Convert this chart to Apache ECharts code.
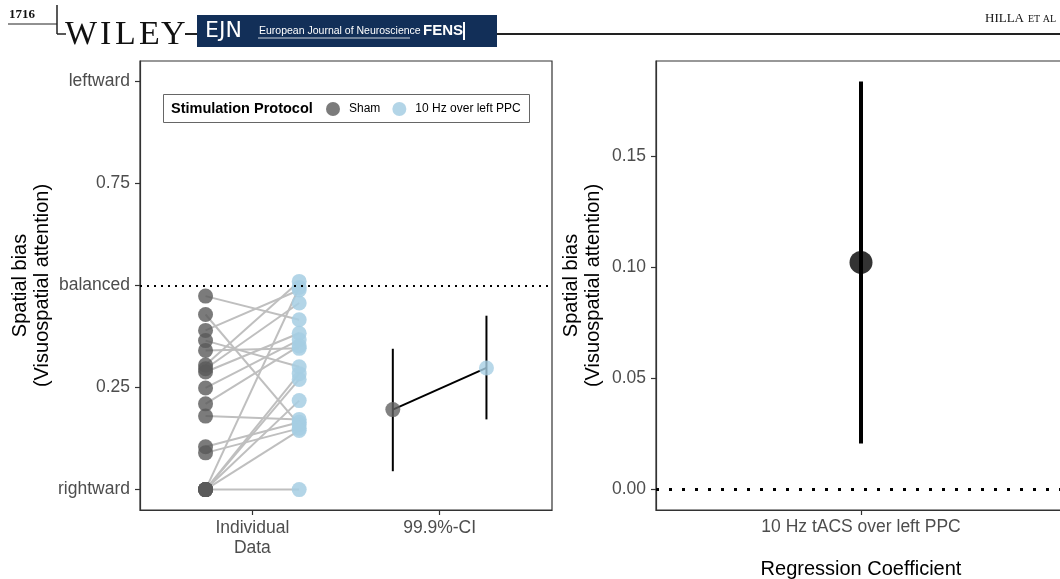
<!DOCTYPE html>
<html>
<head>
<meta charset="utf-8">
<script src="https://cdn.jsdelivr.net/npm/echarts@6/dist/echarts.min.js"></script>
<style>
html,body{margin:0;padding:0;background:#fff;}
#c{width:1060px;height:579px;}
</style>
</head>
<body>
<div id="c"></div>
<script>
// ---- data ----
const xCatLabels = ['Individual\nData', '99.9%-CI'];
const yTickValues = [0, 0.25, 0.5, 0.75, 1];
const yTickLabels = ['rightward', '0.25', 'balanced', '0.75', 'leftward'];
const shamVals = [0.474, 0.429, 0.390, 0.365, 0.341, 0.305, 0.296, 0.288, 0.249, 0.210, 0.180, 0.105, 0.090, 0, 0, 0, 0, 0, 0];
const ppcVals  = [0.416, 0.159, 0.489, 0.301, 0.346, 0.510, 0.457, 0.383, 0.367, 0.352, 0.172, 0.165, 0.150, 0, 0.145, 0.218, 0.270, 0.284, 0.495];
const ciMean = [0.196, 0.298];
const ciLow  = [0.045, 0.172];
const ciHigh = [0.345, 0.426];
const regLabel = '10 Hz tACS over left PPC';
const regTicks = [0, 0.05, 0.10, 0.15];
const regEst = 0.1023, regLow = 0.0207, regHigh = 0.1838;
const groupNames = ['Sham', '10 Hz over left PPC'];

const SHAM = '#5a5a5a', PPC = '#a6cee3';
const FONT = 'Liberation Sans';
const chart = echarts.init(document.getElementById('c'));

const series = [];
// paired lines
shamVals.forEach((s, i) => {
  series.push({
    type: 'line', xAxisIndex: 0, yAxisIndex: 0, name: 'pair' + i,
    data: [[0.75, s], [1.25, ppcVals[i]]],
    symbol: 'none', silent: true, z: 1,
    lineStyle: { color: '#bfbfbf', width: 2 }
  });
});
series.push({
  type: 'scatter', name: groupNames[0], xAxisIndex: 0, yAxisIndex: 0,
  data: shamVals.map(v => [0.75, v]), symbolSize: 15, z: 3,
  itemStyle: { color: SHAM, opacity: 0.8 },
  markLine: {
    silent: true, symbol: 'none', label: { show: false },
    lineStyle: { color: '#000', type: [2, 5], width: 2 },
    data: [{ yAxis: 0.5 }]
  }
});
series.push({
  type: 'scatter', name: groupNames[1], xAxisIndex: 0, yAxisIndex: 0,
  data: ppcVals.map(v => [1.25, v]), symbolSize: 15, z: 3,
  itemStyle: { color: PPC, opacity: 0.85 }
});
// CI
series.push({
  type: 'line', name: 'ciMeanLine', xAxisIndex: 0, yAxisIndex: 0,
  data: [[1.75, ciMean[0]], [2.25, ciMean[1]]], symbol: 'none', z: 2,
  lineStyle: { color: '#000', width: 2 }
});
[1.75, 2.25].forEach((x, k) => {
  series.push({
    type: 'line', name: 'ciBar' + k, xAxisIndex: 0, yAxisIndex: 0,
    data: [[x, ciLow[k]], [x, ciHigh[k]]], symbol: 'none', z: 2,
    lineStyle: { color: '#000', width: 2 }
  });
});
series.push({
  type: 'scatter', name: groupNames[0], xAxisIndex: 0, yAxisIndex: 0,
  data: [[1.75, ciMean[0]]], symbolSize: 15, z: 4, itemStyle: { color: '#616161' }
});
series.push({
  type: 'scatter', name: groupNames[1], xAxisIndex: 0, yAxisIndex: 0,
  data: [[2.25, ciMean[1]]], symbolSize: 15, z: 4, itemStyle: { color: PPC }
});
// right panel
series.push({
  type: 'line', name: 'regBar', xAxisIndex: 1, yAxisIndex: 1,
  data: [[1, regLow], [1, regHigh]], symbol: 'none', z: 2,
  lineStyle: { color: '#000', width: 4 },
  markLine: {
    silent: true, symbol: 'none', label: { show: false },
    lineStyle: { color: '#000', type: [3, 10], width: 3 },
    data: [{ yAxis: 0 }]
  }
});
series.push({
  type: 'scatter', name: 'regPoint', xAxisIndex: 1, yAxisIndex: 1,
  data: [[1, regEst]], symbolSize: 23, z: 4, itemStyle: { color: '#000' }
});

const tickStyle = { color: '#333', width: 1.2 };
const labelStyle = { color: '#4d4d4d', fontSize: 17.5, fontFamily: FONT };
const nameStyle = { color: '#000', fontSize: 20, fontFamily: FONT, lineHeight: 22 };

const wileyLetters = [['W', 65], ['I', 100], ['L', 115], ['E', 139], ['Y', 161]];

const option = {
  animation: false,
  backgroundColor: '#fff',
  textStyle: { fontFamily: FONT },
  grid: [
    { left: 140, top: 61, width: 412, height: 449, outerBoundsMode: 'none', containLabel: false,
      show: true, borderColor: '#333', borderWidth: 1.2, backgroundColor: '#fff' },
    { left: 656, top: 61, width: 410, height: 449, outerBoundsMode: 'none', containLabel: false,
      show: true, borderColor: '#333', borderWidth: 1.2, backgroundColor: '#fff' }
  ],
  xAxis: [
    {
      type: 'value', gridIndex: 0, min: 0.4, max: 2.6,
      splitLine: { show: false },
      axisLine: { show: true, onZero: false, lineStyle: tickStyle },
      axisTick: { show: true, customValues: [1, 2], length: 5, lineStyle: tickStyle },
      axisLabel: Object.assign({ customValues: [1, 2], margin: 8, lineHeight: 20,
        formatter: v => xCatLabels[Math.round(v) - 1] }, labelStyle)
    },
    {
      type: 'value', gridIndex: 1, min: 0.4, max: 1.6,
      splitLine: { show: false },
      axisLine: { show: true, onZero: false, lineStyle: tickStyle },
      axisTick: { show: true, customValues: [1], length: 5, lineStyle: tickStyle },
      axisLabel: Object.assign({ customValues: [1], margin: 8, formatter: () => regLabel }, labelStyle),
      name: 'Regression Coefficient', nameLocation: 'middle', nameGap: 48,
      nameTextStyle: nameStyle
    }
  ],
  yAxis: [
    {
      type: 'value', gridIndex: 0, min: -0.05, max: 1.05,
      splitLine: { show: false },
      axisLine: { show: true, onZero: false, lineStyle: tickStyle },
      axisTick: { show: true, customValues: yTickValues, length: 5, lineStyle: tickStyle },
      axisLabel: Object.assign({ customValues: yTickValues, margin: 10,
        formatter: v => yTickLabels[yTickValues.findIndex(t => Math.abs(t - v) < 1e-6)] }, labelStyle),
      name: 'Spatial bias\n(Visuospatial attention)', nameLocation: 'middle', nameGap: 87,
      nameTextStyle: nameStyle
    },
    {
      type: 'value', gridIndex: 1, min: -0.0092, max: 0.193,
      splitLine: { show: false },
      axisLine: { show: true, onZero: false, lineStyle: tickStyle },
      axisTick: { show: true, customValues: regTicks, length: 5, lineStyle: tickStyle },
      axisLabel: Object.assign({ customValues: regTicks, margin: 10,
        formatter: v => v.toFixed(2) }, labelStyle),
      name: 'Spatial bias\n(Visuospatial attention)', nameLocation: 'middle', nameGap: 52,
      nameTextStyle: nameStyle
    }
  ],
  legend: {
    data: groupNames, left: 326, top: 102, padding: 0, z: 60,
    icon: 'circle', itemWidth: 14, itemHeight: 14, itemGap: 12,
    selectedMode: false,
    textStyle: { fontSize: 12, color: '#000', fontFamily: FONT, padding: [0, 0, 0, 4] }
  },
  graphic: [
    { type: 'rect', shape: { x: 163.5, y: 94.5, width: 366, height: 28 }, style: { fill: '#fff', stroke: '#666', lineWidth: 1 }, z: 5 },
    { type: 'text', x: 171, y: 109, z: 6, style: { text: 'Stimulation Protocol', font: 'bold 14.5px "Liberation Sans"', fill: '#000', verticalAlign: 'middle' } },
    // header
    { type: 'text', x: 9, y: 8, style: { text: '1716', font: 'bold 13px "Liberation Serif"', fill: '#111' } },
    { type: 'line', shape: { x1: 8, y1: 24, x2: 57, y2: 24 }, style: { stroke: '#222', lineWidth: 1 } },
    { type: 'line', shape: { x1: 57, y1: 5, x2: 57, y2: 34 }, style: { stroke: '#222', lineWidth: 1.5 } },
    { type: 'line', shape: { x1: 57, y1: 34, x2: 66, y2: 34 }, style: { stroke: '#222', lineWidth: 1.5 } },
    ...wileyLetters.map(([ch, x]) => ({ type: 'text', x: x, y: 18, style: { text: ch, font: '34px "Liberation Serif"', fill: '#111' } })),
    { type: 'line', shape: { x1: 185, y1: 34, x2: 197, y2: 34 }, style: { stroke: '#222', lineWidth: 2 } },
    { type: 'rect', shape: { x: 197, y: 15, width: 300, height: 32 }, style: { fill: '#122f58' } },
    { type: 'text', x: 205, y: 31, style: { text: 'EJN', font: '22px "DejaVu Sans"', fill: '#fff', verticalAlign: 'middle' } },
    { type: 'text', x: 259, y: 31, style: { text: 'European Journal of Neuroscience', font: '10.5px "Liberation Sans"', fill: '#fff', verticalAlign: 'middle' } },
    { type: 'line', shape: { x1: 258, y1: 38, x2: 410, y2: 38 }, style: { stroke: '#fff', lineWidth: 0.8 } },
    { type: 'text', x: 423, y: 31, style: { text: 'FENS', font: 'bold 15px "Liberation Sans"', fill: '#fff', verticalAlign: 'middle' } },
    { type: 'line', shape: { x1: 464, y1: 22, x2: 464, y2: 40 }, style: { stroke: '#fff', lineWidth: 2 } },
    { type: 'line', shape: { x1: 497, y1: 34, x2: 1060, y2: 34 }, style: { stroke: '#222', lineWidth: 2 } },
    { type: 'text', x: 985, y: 12, style: { text: 'HILLA', font: '13px "Liberation Serif"', fill: '#111' } },
    { type: 'text', x: 1028, y: 14, style: { text: 'ET AL', font: '10px "Liberation Serif"', fill: '#111' } }
  ],
  series: series
};
chart.setOption(option);
</script>
</body>
</html>
